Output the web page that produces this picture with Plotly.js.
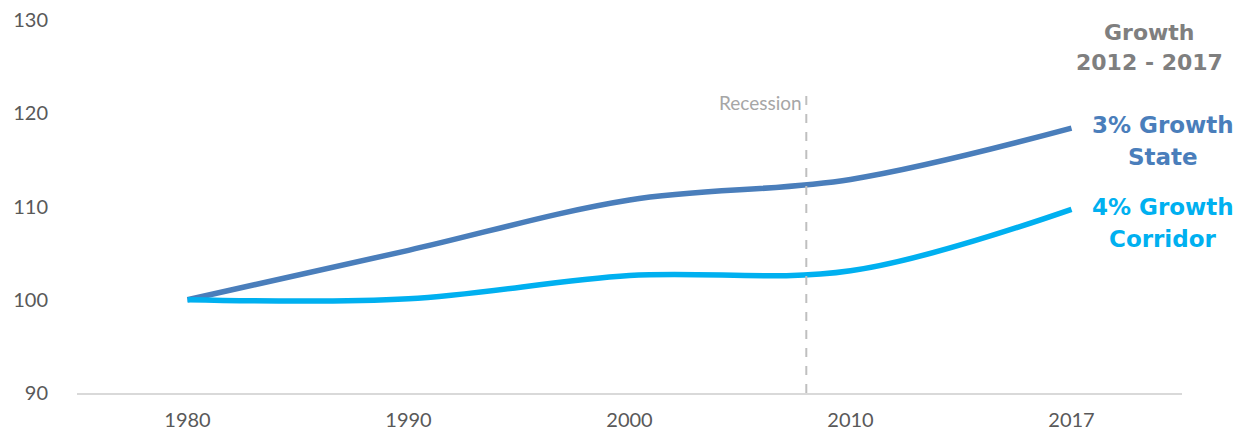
<!DOCTYPE html>
<html>
<head>
<meta charset="utf-8">
<script src="https://cdn.plot.ly/plotly-3.0.1.min.js"></script>
<style>html,body{margin:0;padding:0;background:#fff;}#chart{width:1248px;height:436px;}</style>
</head>
<body>
<div id="chart"></div>
<script>
const years = ["1980", "1990", "2000", "2010", "2017"];
const stateValues = [100, 105.3, 110.7, 112.9, 118.4];
const corridorValues = [100, 100.1, 102.6, 103.1, 109.7];
const yTicks = [90, 100, 110, 120, 130];
const recessionYear = 2008;
const stateLabel = ["3% Growth", "State"];
const corridorLabel = ["4% Growth", "Corridor"];
const headerLabel = ["Growth", "2012 - 2017"];

const FONT = "Lato, 'Open Sans', sans-serif";
const LABEL_FONT = "'DejaVu Sans', Verdana, sans-serif";
const stateColor = "#4a7ebb";
const corridorColor = "#00b0f0";

// position of the recession year on the categorical index scale
const yrs = years.map(Number);
let recIdx = 0;
for (let i = 0; i < yrs.length - 1; i++) {
  if (recessionYear >= yrs[i] && recessionYear <= yrs[i + 1]) {
    recIdx = i + (recessionYear - yrs[i]) / (yrs[i + 1] - yrs[i]);
  }
}
const idx = years.map((_, i) => i);

const traces = [
  {x: idx, y: stateValues, mode: "lines", line: {color: stateColor, width: 5.5, shape: "spline", smoothing: 1}, hoverinfo: "skip"},
  {x: idx, y: corridorValues, mode: "lines", line: {color: corridorColor, width: 5.5, shape: "spline", smoothing: 1}, hoverinfo: "skip"}
];

function lineLabels(lines, yref, yval, color, x, shifts, size) {
  return lines.map((t, i) => ({
    xref: "paper", yref: yref, x: x, y: yval, xanchor: "center", yanchor: "middle", yshift: shifts[i],
    text: "<b>" + t + "</b>", showarrow: false, font: {size: size, color: color, family: LABEL_FONT}
  }));
}

const layout = {
  width: 1248, height: 436,
  margin: {l: 77, r: 66, t: 20, b: 43},
  paper_bgcolor: "#fff", plot_bgcolor: "#fff",
  showlegend: false,
  font: {family: FONT, color: "#595959"},
  xaxis: {
    range: [-0.5, years.length - 0.5],
    tickvals: idx, ticktext: years,
    showgrid: false, zeroline: false,
    showline: true, linecolor: "#d9d9d9", linewidth: 2,
    ticks: "", tickfont: {size: 20, color: "#595959", family: FONT},
    ticklabelstandoff: 8, fixedrange: true
  },
  yaxis: {
    range: [90, 130], tickvals: yTicks,
    showgrid: false, zeroline: false, showline: false,
    ticks: "", tickfont: {size: 20, color: "#595959", family: FONT},
    ticklabelstandoff: 28, fixedrange: true
  },
  shapes: [
    {type: "line", xref: "x", yref: "y", x0: recIdx, x1: recIdx, y0: 90, y1: 122,
     line: {color: "#bfbfbf", width: 2, dash: "dash"}}
  ],
  annotations: [
    {xref: "x", yref: "y", x: recIdx, y: 121.2, xanchor: "right", yanchor: "middle", xshift: -2,
     text: "Recession", showarrow: false, font: {size: 19, color: "#a6a6a6", family: FONT}}
  ]
    .concat(lineLabels(headerLabel, "paper", 1, "#7f7f7f", (1149 - 77) / 1105, [-12, -42], 22))
    .concat(lineLabels(stateLabel, "y", stateValues[stateValues.length - 1], stateColor, (1163 - 77) / 1105, [3, -29], 23))
    .concat(lineLabels(corridorLabel, "y", corridorValues[corridorValues.length - 1], corridorColor, (1163 - 77) / 1105, [2, -30], 23))
};

Plotly.newPlot("chart", traces, layout, {displayModeBar: false, staticPlot: true});
</script>
</body>
</html>
